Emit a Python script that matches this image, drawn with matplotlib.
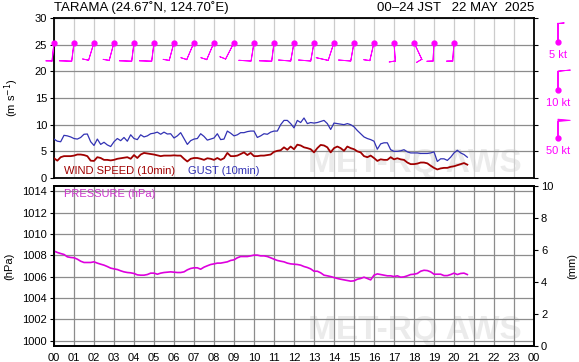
import numpy as np
import matplotlib
matplotlib.use("Agg")
import matplotlib.pyplot as plt

plt.rcParams['font.family'] = ['Liberation Sans', 'DejaVu Sans']

# 10-minute values, 00:00 - 20:40 JST
wind = [3.7, 3.25, 3.9, 4.1, 4.1, 4.1, 4.2, 4.4, 4.4, 4.3, 4.1, 3.25, 3.2, 3.9, 3.75, 3.4,
        3.4, 3.3, 3.4, 3.6, 3.7, 3.8, 3.9, 3.6, 4.3, 3.75, 4.4, 4.7, 4.6, 4.5, 4.4, 4.25,
        4.1, 4.2, 4.2, 4.2, 4.25, 4.2, 4.2, 3.6, 3.1, 3.6, 3.75, 3.75, 3.6, 3.4, 3.7, 3.6,
        3.4, 3.75, 3.4, 3.7, 4.7, 4.1, 4.1, 4.2, 4.5, 4.8, 4.3, 4.7, 4.1, 4.1, 4.2, 4.2,
        4.3, 4.4, 4.9, 5.1, 5.2, 5.75, 5.3, 5.9, 5.4, 6.25, 6.1, 5.75, 5.6, 5.4, 4.8, 5.6,
        6.2, 6.1, 5.75, 4.8, 5.6, 5.9, 5.6, 5.1, 5.9, 5.6, 5.4, 5.0, 4.8, 4.1, 3.9, 4.2,
        3.75, 3.2, 3.5, 3.4, 3.4, 3.9, 3.5, 3.7, 3.5, 3.4, 2.9, 2.6, 2.6, 2.7, 2.9, 2.9,
        2.75, 2.3, 1.9, 1.6, 1.8, 1.9, 1.9, 2.1, 2.2, 2.4, 2.6, 2.8, 2.5]
gust = [7.3, 6.9, 6.8, 8.0, 7.9, 7.7, 7.4, 7.3, 7.6, 8.2, 8.25, 6.8, 6.1, 7.3, 6.3, 6.7,
        6.2, 5.9, 6.8, 7.4, 7.0, 7.6, 6.9, 8.1, 7.4, 7.2, 8.1, 7.7, 7.9, 8.3, 8.4, 8.6,
        8.2, 8.6, 8.25, 8.3, 7.5, 7.9, 8.5, 7.4, 6.3, 7.0, 7.3, 7.4, 8.3, 7.8, 7.1, 7.3,
        7.5, 8.3, 7.2, 7.3, 8.8, 8.4, 7.9, 8.1, 8.5, 8.5, 8.7, 8.8, 8.8, 7.6, 7.9, 8.3,
        8.2, 8.6, 8.8, 8.8, 10.0, 10.8, 10.8, 10.2, 9.4, 10.8, 10.4, 11.25, 10.2, 10.4, 10.3, 10.4,
        10.6, 10.8, 10.2, 9.1, 10.3, 10.2, 10.1, 10.0, 10.2, 10.0, 9.6, 8.9, 8.3, 7.7, 7.4, 7.2,
        6.9, 5.4, 6.4, 6.6, 6.6, 5.3, 5.0, 5.0, 5.1, 5.3, 4.9, 4.7, 4.7, 4.7, 4.6, 4.6,
        4.6, 4.7, 4.9, 3.1, 3.6, 3.6, 3.3, 3.9, 4.7, 5.2, 4.7, 4.4, 3.9]
pres = [1008.4, 1008.27, 1008.17, 1008.08, 1007.86, 1007.8, 1007.77, 1007.64, 1007.45, 1007.33,
        1007.33, 1007.33, 1007.39, 1007.27, 1007.17, 1007.08, 1006.95, 1006.8, 1006.73, 1006.67,
        1006.55, 1006.45, 1006.39, 1006.36, 1006.3, 1006.17, 1006.14, 1006.14, 1006.2, 1006.33,
        1006.33, 1006.23, 1006.33, 1006.39, 1006.42, 1006.45, 1006.42, 1006.39, 1006.39, 1006.45,
        1006.64, 1006.77, 1006.83, 1006.83, 1006.7, 1006.89, 1007.02, 1007.14, 1007.2, 1007.27,
        1007.27, 1007.33, 1007.39, 1007.52, 1007.58, 1007.77, 1007.89, 1007.89, 1007.89, 1007.95,
        1008.02, 1008.02, 1007.95, 1007.95, 1007.89, 1007.77, 1007.64, 1007.52, 1007.45, 1007.39,
        1007.27, 1007.2, 1007.17, 1007.14, 1007.08, 1006.95, 1006.86, 1006.73, 1006.51, 1006.51,
        1006.36, 1006.14, 1006.08, 1006.01, 1005.92, 1005.83, 1005.76, 1005.7, 1005.64, 1005.58,
        1005.61, 1005.76, 1005.83, 1005.95, 1005.83, 1005.7, 1006.14, 1006.26, 1006.2, 1006.14,
        1006.08, 1006.08, 1006.01, 1006.08, 1005.95, 1005.98, 1006.08, 1006.2, 1006.23, 1006.3,
        1006.51, 1006.6, 1006.57, 1006.45, 1006.23, 1006.23, 1006.23, 1006.1, 1006.1, 1006.2,
        1006.33, 1006.2, 1006.3, 1006.33, 1006.2]
t = np.arange(len(wind)) / 6.0

# hourly wind barbs (direction wind comes from, knots)
barb_hours = list(range(21))
barb_dir = [186, 187, 197, 195, 187, 187, 195, 203, 203, 207, 189, 187, 190, 190,
            198, 190, 193, 176, 155, 183, 184]
barb_kt = [5, 10, 5, 5, 10, 10, 5, 5, 5, 5, 10, 10, 10, 10, 10, 10, 5, 5, 5, 5, 5]

legend_kt = [5, 10, 50]
hour_labels = ["%02d" % (h % 24) for h in range(25)]

MAG = "#ff00ff"
barb_style = dict(length=5.2, color=MAG, lw=0.7, clip_on=False,
                  sizes=dict(spacing=0.01, height=0.65, width=0.12))

fig = plt.figure(figsize=(5.79, 3.62), dpi=100)
ax1 = fig.add_axes([54 / 579, 1 - 178 / 362, 480 / 579, 160 / 362])
ax2 = fig.add_axes([54 / 579, 1 - 346 / 362, 480 / 579, 160 / 362])

# ---- top panel: wind ----
ax1.set_xlim(0, 24)
ax1.set_ylim(0, 30)
ax1.set_xticks(range(25))
ax1.set_yticks(range(0, 31, 5))
ax1.grid(axis="x", color="#cccccc", lw=0.9)
ax1.grid(axis="y", color="#8c8c8c", lw=0.9)
ax1.tick_params(axis="x", bottom=False, labelbottom=False)
ax1.tick_params(axis="y", labelsize=8, length=3, pad=2, right=True, direction="out")
ax1.set_ylabel("(m s$^{-1}$)", fontsize=8, labelpad=10)
ax1.text(0.752, 0.09, "MET-RQ AWS", transform=ax1.transAxes, ha="center", va="center",
         fontsize=24, fontweight="bold", color="#ebebeb", zorder=1.5)

ax1.plot(t, gust, color="#3232b4", lw=0.9, zorder=3)
ax1.plot(t, wind, color="#a00000", lw=1.3, zorder=3)
ax1.text(0.02, 0.045, "WIND SPEED (10min)", transform=ax1.transAxes, fontsize=8,
         color="#a00000", va="center")
ax1.text(0.28, 0.045, "GUST (10min)", transform=ax1.transAxes, fontsize=8,
         color="#3232b4", va="center")

d = np.radians(barb_dir)
u = -np.array(barb_kt) * np.sin(d)
v = -np.array(barb_kt) * np.cos(d)
yb = [25.4] * len(barb_hours)
ax1.barbs(barb_hours, yb, u, v, zorder=4, **barb_style)
ax1.plot(barb_hours, yb, "o", ms=3.5, color=MAG, zorder=5, clip_on=False)

# barb legend on the right
ly = [25.5, 16.5, 7.5]
lx = [25.2] * 3
ax1.barbs(lx, ly, [0, 0, 0], [-k for k in legend_kt], **barb_style)
ax1.plot(lx, ly, "o", ms=3.5, color=MAG, clip_on=False)
for y, k in zip(ly, legend_kt):
    ax1.text(25.2, y - 2.5, "%d kt" % k, ha="center", va="center", fontsize=8, color=MAG,
             clip_on=False)

ax1.text(0.0, 1.0625, "TARAMA (24.67˚N, 124.70˚E)", transform=ax1.transAxes, fontsize=9.5,
         va="center", ha="left")
ax1.text(1.0, 1.0625, "00–24 JST   22 MAY  2025", transform=ax1.transAxes, fontsize=9.5,
         va="center", ha="right")

# ---- bottom panel: pressure ----
ax2.set_xlim(0, 24)
ax2.set_ylim(999.5, 1014.5)
ax2.set_xticks(range(25))
ax2.set_xticklabels(hour_labels)
ax2.set_yticks(range(1000, 1015, 2))
ax2.grid(color="#8c8c8c", lw=0.9)
ax2.tick_params(axis="x", labelsize=8, length=0, pad=5)
ax2.tick_params(axis="y", labelsize=8, length=3, pad=2)
ax2.set_ylabel("(hPa)", fontsize=8, labelpad=6)
ax2.text(0.752, 0.1, "MET-RQ AWS", transform=ax2.transAxes, ha="center", va="center",
         fontsize=24, fontweight="bold", color="#ebebeb", zorder=1.5)
ax2.plot(t, pres, color="#dd00dd", lw=1.2, zorder=3)
ax2.text(0.02, 0.948, "PRESSURE (hPa)", transform=ax2.transAxes, fontsize=8,
         color="#cc33cc", va="center")

ax3 = ax2.twinx()
ax3.set_ylim(0, 10)
ax3.set_yticks(range(0, 11, 2))
ax3.tick_params(axis="y", labelsize=8, length=3, pad=2)
ax3.set_ylabel("(mm)", fontsize=8, labelpad=10)

for ax in (ax1, ax2, ax3):
    for s in ax.spines.values():
        s.set_linewidth(1.3)

fig.savefig("out.png", dpi=100)
